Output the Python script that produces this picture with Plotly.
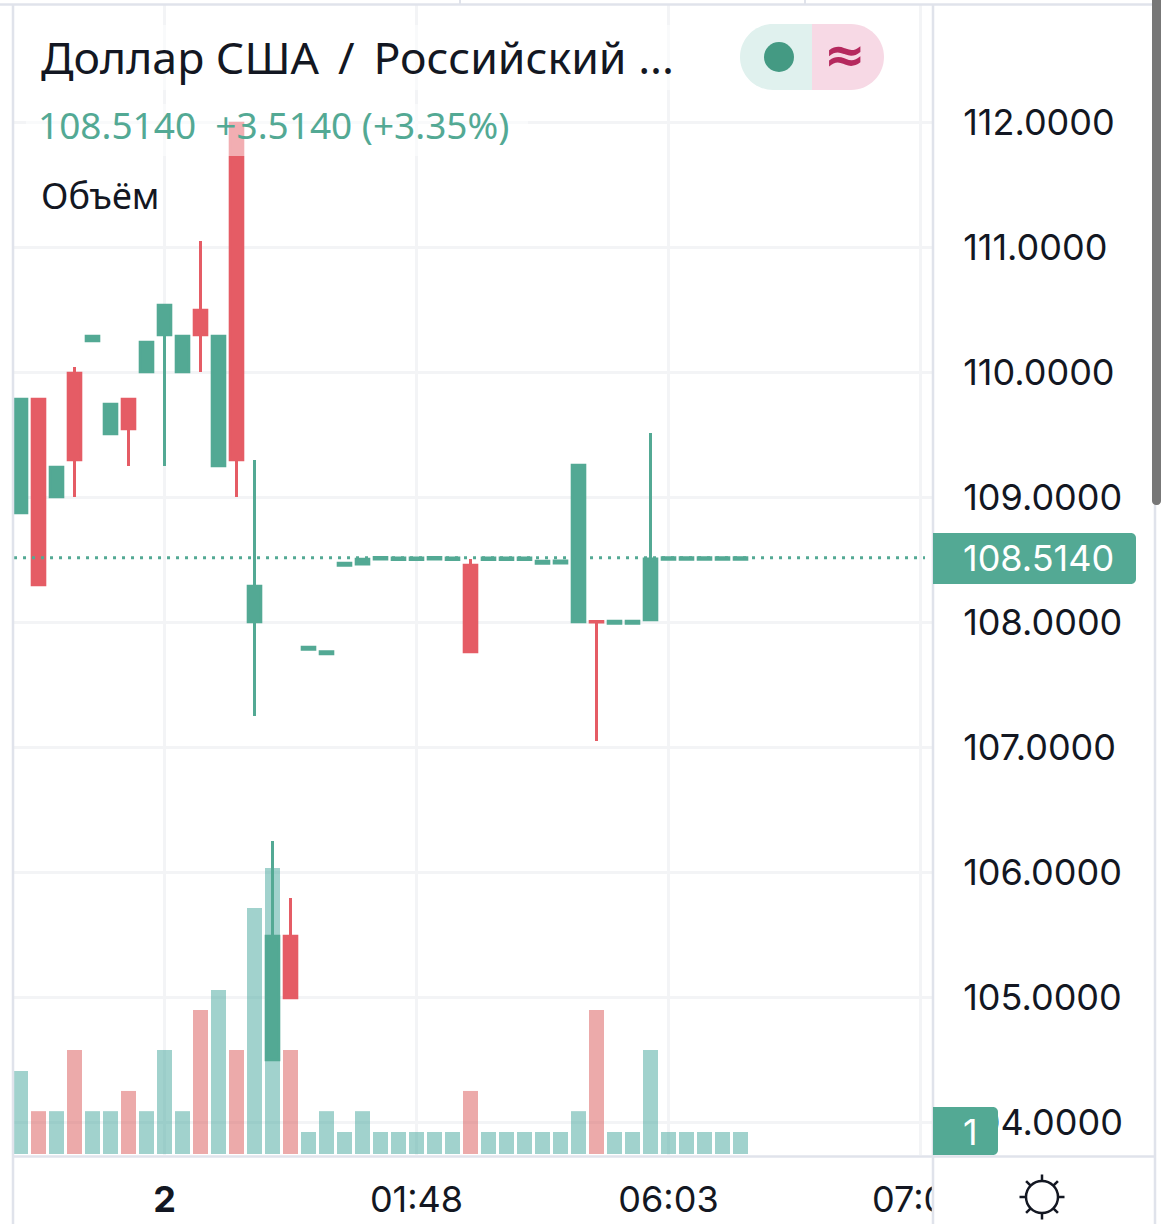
import plotly.graph_objects as go
import math

# ---- data ----
opens  = [108.874,109.782,109.002,109.990,110.250,109.506,109.782,110.002,110.298,110.002,
          110.494,109.250,111.990,108.002,104.498,105.486,107.782,107.746,108.454,108.464,
          108.504,108.500,108.500,108.504,108.500,108.454,108.500,108.500,108.500,108.470,
          108.472,108.002,108.005,107.990,107.990,108.018,108.502,108.502,108.502,108.502,108.502]
closes = [109.782,108.298,109.238,109.298,110.286,109.742,109.546,110.238,110.534,110.286,
          110.298,110.286,109.298,108.286,105.486,104.994,107.798,107.762,108.470,108.502,
          108.516,108.512,108.512,108.516,108.512,107.762,108.512,108.512,108.512,108.486,
          108.488,109.254,108.000,108.006,108.006,108.504,108.514,108.514,108.514,108.514,108.514]
highs  = [109.782,109.782,109.238,110.040,110.286,109.742,109.782,110.238,110.534,110.286,
          111.048,110.286,111.990,109.296,106.248,105.792,107.798,107.762,108.470,108.502,
          108.516,108.512,108.512,108.516,108.512,108.504,108.512,108.512,108.512,108.486,
          108.488,109.254,108.005,108.006,108.006,109.512,108.514,108.514,108.514,108.514,108.514]
lows   = [108.874,108.298,109.002,109.000,110.250,109.506,109.248,110.002,109.248,110.002,
          110.000,109.250,109.000,107.248,104.498,104.994,107.782,107.746,108.454,108.464,
          108.504,108.500,108.500,108.504,108.500,107.762,108.500,108.500,108.500,108.470,
          108.472,108.002,107.048,107.990,107.990,108.018,108.502,108.502,108.502,108.502,108.502]
volumes = [4.07,2.10,2.10,5.10,2.10,2.10,3.09,2.10,5.10,2.10,
           7.06,8.04,5.10,12.06,14.02,5.10,1.08,2.10,1.08,2.10,
           1.08,1.08,1.08,1.08,1.08,3.09,1.08,1.08,1.08,1.08,
           1.08,2.10,7.06,1.08,1.08,5.10,1.08,1.08,1.08,1.08,1.08]
tick_positions = [8, 22, 36, 50]
tick_labels = ["<b>2</b>", "01:48", "06:03", "07:00"]
last_price = 108.514
price_ticks = [104, 105, 106, 107, 108, 109, 110, 111, 112]

GREEN = "#53a994"; RED = "#e55c65"; INK = "#131722"; GRID = "#f3f4f6"; BORDER = "#e0e3eb"

# plot area in page pixels
L, R, T, B = 14, 933, 5, 1155
def X(p): return (p - L) / (R - L)
def Y(p): return (B - p) / (B - T)

xs = list(range(len(opens)))
vol_colors = ["rgba(68,165,155,0.5)" if c >= o else "rgba(217,85,85,0.5)" for o, c in zip(opens, closes)]

fig = go.Figure()
fig.add_trace(go.Bar(x=xs, y=volumes, marker=dict(color=vol_colors, line=dict(width=0)),
                     width=0.833, yaxis="y", hoverinfo="skip", showlegend=False))
fig.add_trace(go.Candlestick(x=xs, open=opens, high=highs, low=lows, close=closes, yaxis="y2",
                             whiskerwidth=0, showlegend=False, hoverinfo="skip",
                             increasing=dict(line=dict(color=GREEN, width=3), fillcolor=GREEN),
                             decreasing=dict(line=dict(color=RED, width=3), fillcolor=RED)))

def rect(x0, y0, x1, y1, color, layer="above"):
    return dict(type="rect", xref="paper", yref="paper", x0=X(x0), x1=X(x1), y0=Y(y0), y1=Y(y1),
                fillcolor=color, line=dict(width=0), layer=layer)
def seg(x0, y0, x1, y1, color, w):
    return dict(type="line", xref="paper", yref="paper", x0=X(x0), x1=X(x1), y0=Y(y0), y1=Y(y1),
                line=dict(color=color, width=w), layer="above")
def round_path(x0, y0, x1, y1, rl, rr, color):
    k = 0.45
    pts = [f"M{X(x0+rl)},{Y(y0)}", f"L{X(x1-rr)},{Y(y0)}"]
    if rr: pts.append(f"C{X(x1-rr*k)},{Y(y0)} {X(x1)},{Y(y0+rr*k)} {X(x1)},{Y(y0+rr)}")
    pts.append(f"L{X(x1)},{Y(y1-rr)}")
    if rr: pts.append(f"C{X(x1)},{Y(y1-rr*k)} {X(x1-rr*k)},{Y(y1)} {X(x1-rr)},{Y(y1)}")
    pts.append(f"L{X(x0+rl)},{Y(y1)}")
    if rl: pts.append(f"C{X(x0+rl*k)},{Y(y1)} {X(x0)},{Y(y1-rl*k)} {X(x0)},{Y(y1-rl)}")
    pts.append(f"L{X(x0)},{Y(y0+rl)}")
    if rl: pts.append(f"C{X(x0)},{Y(y0+rl*k)} {X(x0+rl*k)},{Y(y0)} {X(x0+rl)},{Y(y0)}")
    pts.append("Z")
    return dict(type="path", xref="paper", yref="paper", path=" ".join(pts),
                fillcolor=color, line=dict(width=0), layer="above")

shapes = [
    # last-price dotted line
    dict(type="line", xref="x", yref="y2", x0=-0.36, x1=50.25, y0=last_price, y1=last_price,
         line=dict(color=GREEN, width=3, dash="3px,6px"), layer="above"),
    # legend wash
    rect(26, 104, 528, 156, "rgba(255,255,255,0.5)"),
    rect(26, 25, 700, 90, "rgba(255,255,255,0.5)"),
    # pane covering the clipped time label and price scale
    rect(934, 1157, 1154, 1224, "#ffffff"),
    # borders
    seg(0, 4.5, 1155, 4.5, BORDER, 2.5),
    seg(13, 4, 13, 1224, BORDER, 2.5),
    seg(933, 5, 933, 1224, BORDER, 2.5),
    seg(1155, 505, 1155, 1224, BORDER, 2.5),
    seg(13, 1156.5, 1155, 1156.5, BORDER, 2.5),
    seg(460, 0, 460, 4, BORDER, 2),
    seg(805, 0, 805, 4, BORDER, 2),
    # scrollbar
    round_path(1152, -10, 1161, 505, 4, 4, "#777777"),
    # pill
    round_path(740, 24, 812, 90, 33, 0, "#e0f1ee"),
    round_path(812, 24, 884, 90, 0, 33, "#f7d9e5"),
    dict(type="circle", xref="paper", yref="paper", x0=X(764), x1=X(794), y0=Y(42), y1=Y(72),
         fillcolor="#449a83", line=dict(width=0), layer="above"),
    # price tags
    round_path(933, 533, 1136, 584, 0, 5, GREEN),
    round_path(933, 1107, 998, 1155, 0, 5, GREEN),
    # gear / sun icon
    dict(type="circle", xref="paper", yref="paper", x0=X(1026), x1=X(1058), y0=Y(1181), y1=Y(1213),
         fillcolor="rgba(0,0,0,0)", line=dict(color=INK, width=2.5), layer="above"),
]
for k in range(8):
    a = k * math.pi / 4
    shapes.append(seg(1042 + 16 * math.cos(a), 1197 + 16 * math.sin(a),
                      1042 + 22.5 * math.cos(a), 1197 + 22.5 * math.sin(a), INK, 2.5))

def note(text, px, py, size, color, family, anchor="left"):
    return dict(text=text, xref="paper", yref="paper", x=X(px), y=Y(py), xanchor=anchor, yanchor="middle",
                showarrow=False, font=dict(size=size, color=color, family=family), borderpad=0, borderwidth=0)

annotations = [
    note("Доллар США\u2009 /\u2009 Российский ...", 41, 56, 44.6, INK, "Noto Sans"),
    note("108.5140  +3.5140 (+3.35%)", 38, 124, 37, GREEN, "Noto Sans"),
    note("Объём", 41, 196, 36, INK, "Noto Sans"),
    note("<b>≈</b>", 845, 55, 50, "#b5295e", "DejaVu Sans", "center"),
    note("108.5140", 963, 558, 36, "#ffffff", "Inter"),
    note("1", 970, 1132, 36, "#ffffff", "Inter", "center"),
]

fig.update_layout(
    width=1170, height=1224,
    margin=dict(l=L, r=1170 - R, t=T, b=1224 - B, pad=0, autoexpand=False),
    paper_bgcolor="#ffffff", plot_bgcolor="#ffffff",
    showlegend=False, bargap=0.167, boxgap=0.3, boxgroupgap=0, barmode="overlay",
    shapes=shapes, annotations=annotations, hovermode=False,
    xaxis=dict(range=[-0.361, 50.694], rangeslider=dict(visible=False), tickmode="array",
               tickvals=tick_positions, ticktext=tick_labels, showgrid=True, gridcolor=GRID, gridwidth=3,
               zeroline=False, showline=False, ticks="outside", ticklen=13, tickcolor="rgba(0,0,0,0)",
               tickfont=dict(family="Inter", size=36, color=INK), tickangle=0),
    yaxis=dict(range=[-0.049, 56.32], visible=False, fixedrange=True),
    yaxis2=dict(range=[103.736, 112.936], overlaying="y", side="right", anchor="x", tickmode="array",
                tickvals=price_ticks, tickformat=".4f", showgrid=True, gridcolor=GRID, gridwidth=3,
                zeroline=False, showline=False, ticks="outside", ticklen=22, tickcolor="rgba(0,0,0,0)",
                tickfont=dict(family="Inter", size=36, color=INK)),
)

fig.write_html("out.html", config=dict(displayModeBar=False, responsive=False),
               post_script="document.body.style.margin='0';document.documentElement.style.overflow='hidden';")
